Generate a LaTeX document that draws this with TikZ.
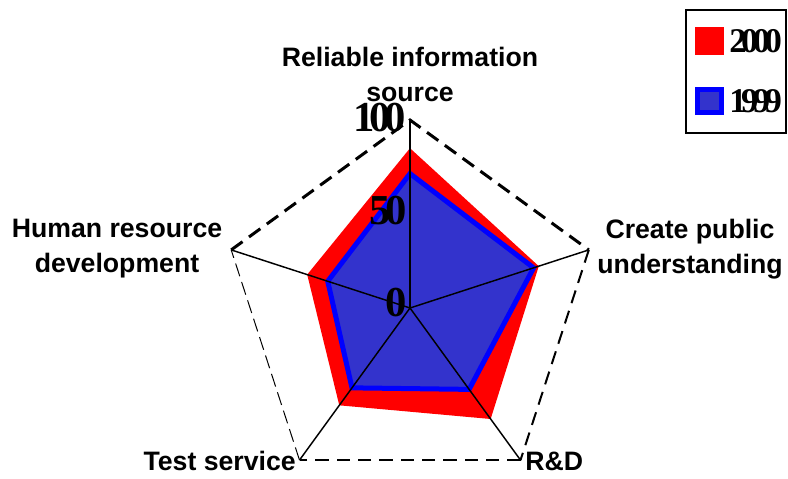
\documentclass[tikz,border=0pt]{standalone}
\usepackage{fontspec}
\setmainfont{Liberation Sans}
\newfontfamily\digitfont{Liberation Serif}
\usetikzlibrary{calc}
\definecolor{fill2000}{RGB}{255,0,0}
\definecolor{edge1999}{RGB}{0,0,255}
\definecolor{fill1999}{RGB}{51,51,204}
\begin{document}
\begin{tikzpicture}[x=0.75pt,y=-0.75pt,
  catlabel/.style={font=\fontsize{20}{26.25}\selectfont\bfseries,inner sep=0,align=center},
  ticklabel/.style={font=\fontsize{32}{32}\digitfont\bfseries,inner sep=0,anchor=east},
  keylabel/.style={font=\fontsize{26}{26}\digitfont\bfseries,inner sep=0,anchor=west},
  spoke/.style={line width=1.1pt,black},
  rimheavy/.style={line width=2.25pt,dash pattern=on 10.5pt off 6pt},
  rimmid/.style={line width=1.5pt,dash pattern=on 10pt off 6pt},
  rimlight/.style={line width=0.75pt,dash pattern=on 10pt off 4.5pt},
  series2000/.style={fill=fill2000},
  series1999/.style={draw=edge1999,fill=fill1999,line width=3.75pt,line join=miter},
]
\useasboundingbox (0,0) rectangle (788,478);
\coordinate (c) at (410,308);
% axis end points, radius 188 = value 100
\coordinate (vtop)  at ($(c)+(-90:188)$);
\coordinate (vcre)  at ($(c)+(-18:188)$);
\coordinate (vrd)   at ($(c)+(54:188)$);
\coordinate (vtest) at ($(c)+(126:188)$);
\coordinate (vhr)   at ($(c)+(198:188)$);

% outer frame of the chart
\draw[rimheavy] (vhr) -- (vtop) -- (vcre);
\draw[rimmid] (vcre) -- (vrd);
\draw[rimmid] (vrd) -- (vtest);
\draw[rimlight] (vtest) -- (vhr);

% series 2000
\fill[series2000] ($(c)+(-90:159.8)$) -- ($(c)+(-18:135.4)$) -- ($(c)+(54:137.2)$)
  -- ($(c)+(126:120.3)$) -- ($(c)+(198:108.1)$) -- cycle;
% series 1999
\filldraw[series1999] ($(c)+(-90:134.4)$) -- ($(c)+(-18:130)$) -- ($(c)+(54:100.6)$)
  -- ($(c)+(126:98.7)$) -- ($(c)+(198:86.5)$) -- cycle;

% spokes
\draw[spoke] (c) -- (vtop);
\draw[spoke] (c) -- (vcre);
\draw[spoke] (c) -- (vrd);
\draw[spoke] (c) -- (vtest);
\draw[spoke] (c) -- (vhr);

% scale labels
\node[ticklabel] (t100) at (406,117.5) {1\kern-.14em0\kern-.14em0};
\node[ticklabel] (t50)  at (407,211) {5\kern-.12em0};
\node[ticklabel] (t0)   at (407,303) {0};

% category labels
\node[catlabel,anchor=base] (lrel) at (410,101) {Reliable information\\source};
\node[catlabel,anchor=base] (lcre) at (690,273) {Create public\\understanding};
\node[catlabel,anchor=base] (lhr)  at (117,272) {Human resource\\development};
\node[catlabel,anchor=base east] (ltest) at (296,470) {Test service};
\node[catlabel,anchor=base west] (lrd)   at (525,470) {R\&D};

% key
\draw[line width=1.5pt] (686,10) rectangle (786,133);
\fill[series2000] (695,27) rectangle (724,55);
\filldraw[series1999] (697.5,89.5) rectangle (721.5,112.5);
\node[keylabel] (k2000) at (729,41.5) {2\kern-.16em0\kern-.16em0\kern-.16em0};
\node[keylabel] (k1999) at (729,101) {1\kern-.16em9\kern-.16em9\kern-.16em9};
\end{tikzpicture}
\end{document}
